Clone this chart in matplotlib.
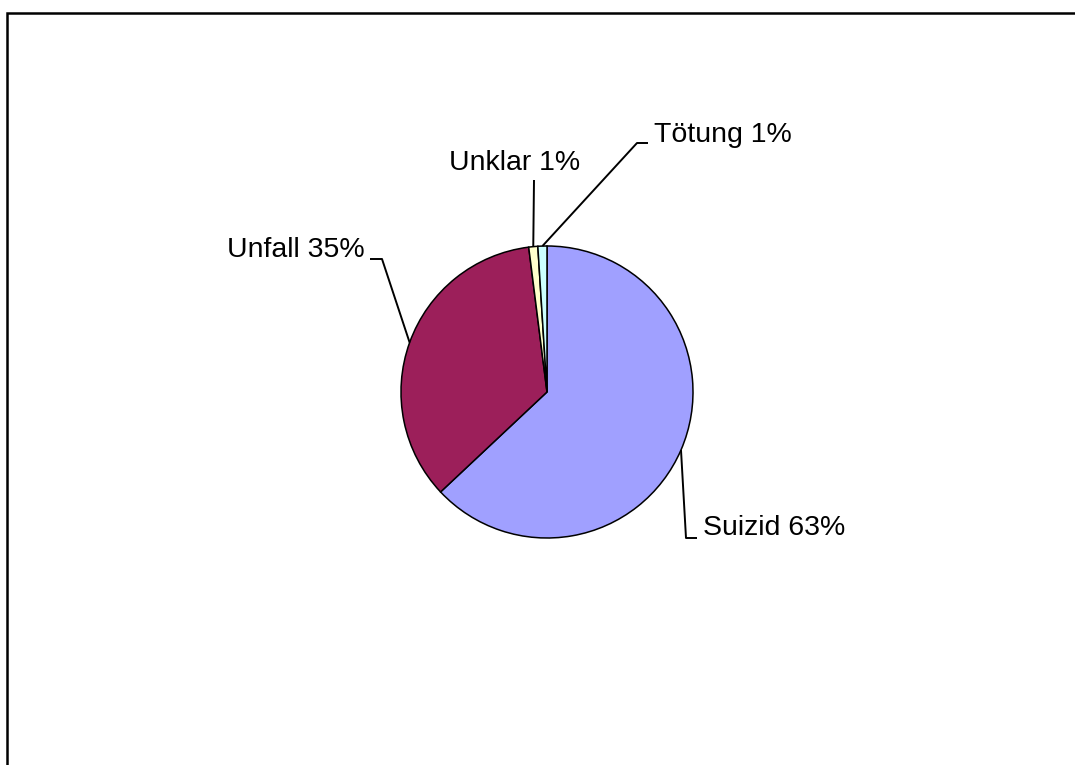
import numpy as np
import matplotlib.pyplot as plt
from matplotlib.patches import Rectangle

# Data
labels = ["Suizid", "Unfall", "Unklar", "Tötung"]
values = [63, 35, 1, 1]
colors = ["#A0A0FF", "#9C1F5A", "#FFFFCC", "#CCFFFF"]

# Figure 1075x765 px, axes spanning the whole canvas in pixel units
fig = plt.figure(figsize=(10.75, 7.65), dpi=100)
ax = fig.add_axes([0, 0, 1, 1])

H = 765
center = (547, H - 392)
radius = 146

wedges, _ = ax.pie(values, colors=colors, startangle=90, counterclock=False,
                   center=center, radius=radius, frame=True,
                   wedgeprops=dict(edgecolor="black", linewidth=1.1))
ax.set_xlim(0, 1075)
ax.set_ylim(0, 765)
ax.set_aspect("equal")
ax.axis("off")

# label layout: (elbow point, end of leader, text pos, ha) in pixel coords (y down)
layout = {
    "Suizid": ((686, 538), (697, 538), (703, 528), "left"),
    "Unfall": ((382, 259), (370, 259), (365, 250), "right"),
    "Unklar": ((534, 180), (534, 180), (515, 163), "center"),
    "Tötung": ((637, 143), (648, 143), (654, 135), "left"),
}

font = dict(family=["Liberation Sans", "DejaVu Sans"], fontsize=20.5, color="black")

for w, lab, val in zip(wedges, labels, values):
    mid = np.deg2rad((w.theta1 + w.theta2) / 2)
    ax_pt = (center[0] + radius * np.cos(mid), center[1] + radius * np.sin(mid))
    elbow, end, tpos, ha = layout[lab]
    xs = [ax_pt[0], elbow[0], end[0]]
    ys = [ax_pt[1], H - elbow[1], H - end[1]]
    ax.plot(xs, ys, color="black", linewidth=1.4, solid_capstyle="butt")
    ax.text(tpos[0], H - tpos[1], f"{lab} {val}%", ha=ha, va="center", **font)

# chart area border (extends past right/bottom edge)
ax.add_patch(Rectangle((7, -20), 1100, H - 13 + 20, fill=False,
                       edgecolor="black", linewidth=1.8))

fig.savefig("out.png", dpi=100)
